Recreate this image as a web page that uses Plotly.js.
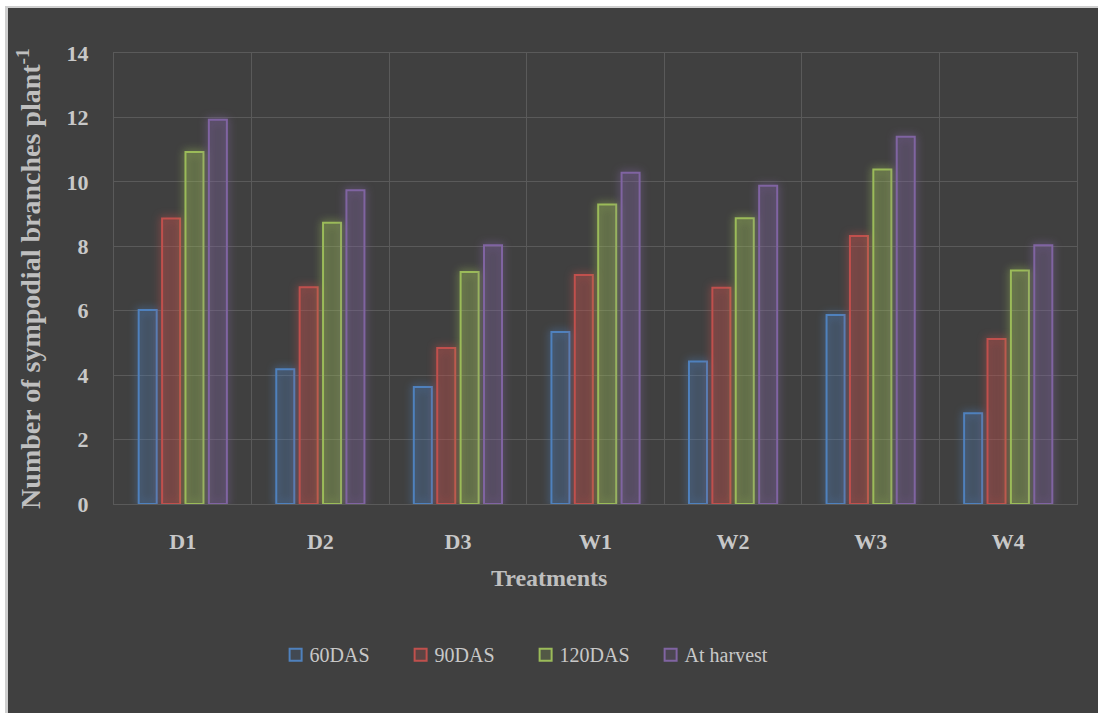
<!DOCTYPE html>
<html>
<head>
<meta charset="utf-8">
<script src="https://cdn.plot.ly/plotly-3.0.1.min.js"></script>
<style>
  html, body { margin: 0; padding: 0; background: #ffffff; width: 1098px; height: 713px; overflow: hidden; }
  #frame { position: absolute; left: 5px; top: 6px; right: 0; bottom: 0; background: #cfcfcf; }
  #chart { position: absolute; left: 8px; top: 8px; width: 1090px; height: 705px; }
</style>
</head>
<body>
<div id="frame"></div>
<div id="chart"></div>
<script>
// Treatments on the x axis
const treatments = ['D1', 'D2', 'D3', 'W1', 'W2', 'W3', 'W4'];

// Sympodial branches per plant at each stage
const das60   = [6.02, 4.18, 3.63, 5.34, 4.42, 5.87, 2.82];
const das90   = [8.86, 6.73, 4.84, 7.11, 6.71, 8.32, 5.12];
const das120  = [10.93, 8.73, 7.20, 9.30, 8.87, 10.38, 7.25];
const harvest = [11.93, 9.74, 8.03, 10.28, 9.88, 11.40, 8.03];

const seriesNames = ['60DAS', '90DAS', '120DAS', 'At harvest'];
const seriesValues = [das60, das90, das120, harvest];
const seriesColors = ['#4f81bd', '#c0504d', '#9bbb59', '#8064a2'];
const seriesFills = ['rgba(79,129,189,0.15)', 'rgba(192,80,77,0.22)', 'rgba(155,187,89,0.2)', 'rgba(128,100,162,0.18)'];
const yTicks = [0, 2, 4, 6, 8, 10, 12, 14];

const serif = '"Liberation Serif", "Times New Roman", serif';
const gridGrey = '#5a5a5a';

const traces = seriesNames.map((name, i) => ({
  type: 'bar',
  name: name,
  x: treatments,
  y: seriesValues[i],
  marker: { color: seriesFills[i], line: { color: seriesColors[i], width: 2 } },
  hoverinfo: 'x+y+name'
}));

const layout = {
  width: 1090,
  height: 705,
  paper_bgcolor: '#404040',
  plot_bgcolor: '#404040',
  margin: { l: 106, r: 21, t: 45, b: 209 },
  showlegend: true,
  bargap: 0.32,
  bargroupgap: 0.23,
  font: { family: serif, color: '#c8c8c8' },
  xaxis: {
    type: 'category',
    tickson: 'boundaries',
    showgrid: true,
    gridcolor: gridGrey,
    gridwidth: 1,
    ticks: '',
    showline: true,
    mirror: true,
    linecolor: gridGrey,
    linewidth: 1,
    zeroline: false,
    ticklabelstandoff: 18,
    tickfont: { family: serif, size: 22, color: '#c8c8c8', weight: 'bold' }
  },
  yaxis: {
    range: [0, 14],
    tickvals: yTicks,
    ticktext: yTicks.map(String),
    showgrid: true,
    gridcolor: gridGrey,
    gridwidth: 1,
    zeroline: false,
    showline: true,
    mirror: true,
    linecolor: gridGrey,
    linewidth: 1,
    ticks: '',
    ticklabelstandoff: 20,
    tickfont: { family: serif, size: 22, color: '#c8c8c8', weight: 'bold' },
    title: {
      text: 'Number of sympodial branches plant<sup>-1</sup>',
      font: { family: serif, size: 28, color: '#bfbfbf', weight: 'bold' },
      standoff: 17
    }
  },
  legend: {
    orientation: 'h',
    x: 0.1616,
    xanchor: 'left',
    y: -0.334,
    yanchor: 'middle',
    bgcolor: 'rgba(0,0,0,0)',
    font: { family: serif, size: 20, color: '#c8c8c8' },
    entrywidth: 80,
    itemclick: false
  },
  annotations: [{
    text: '<b>Treatments</b>',
    xref: 'paper', yref: 'paper',
    x: 0.4517, y: -0.1635,
    xanchor: 'center', yanchor: 'middle',
    showarrow: false,
    font: { family: serif, size: 24, color: '#bfbfbf' }
  }]
};

Plotly.newPlot('chart', traces, layout, { displayModeBar: false, staticPlot: true }).then(() => {
  // soft glow around each series' bars
  document.querySelectorAll('#chart .barlayer .trace').forEach((g, i) => {
    g.style.filter = 'drop-shadow(0 0 4px ' + seriesColors[i % seriesColors.length] + ')';
  });
  // keep each legend swatch close to its label
  document.querySelectorAll('#chart .legend .traces .legendpoints path').forEach(p => {
    const t = p.getAttribute('transform') || '';
    p.setAttribute('transform', (t + ' translate(6,0)').trim());
  });
});
</script>
</body>
</html>
